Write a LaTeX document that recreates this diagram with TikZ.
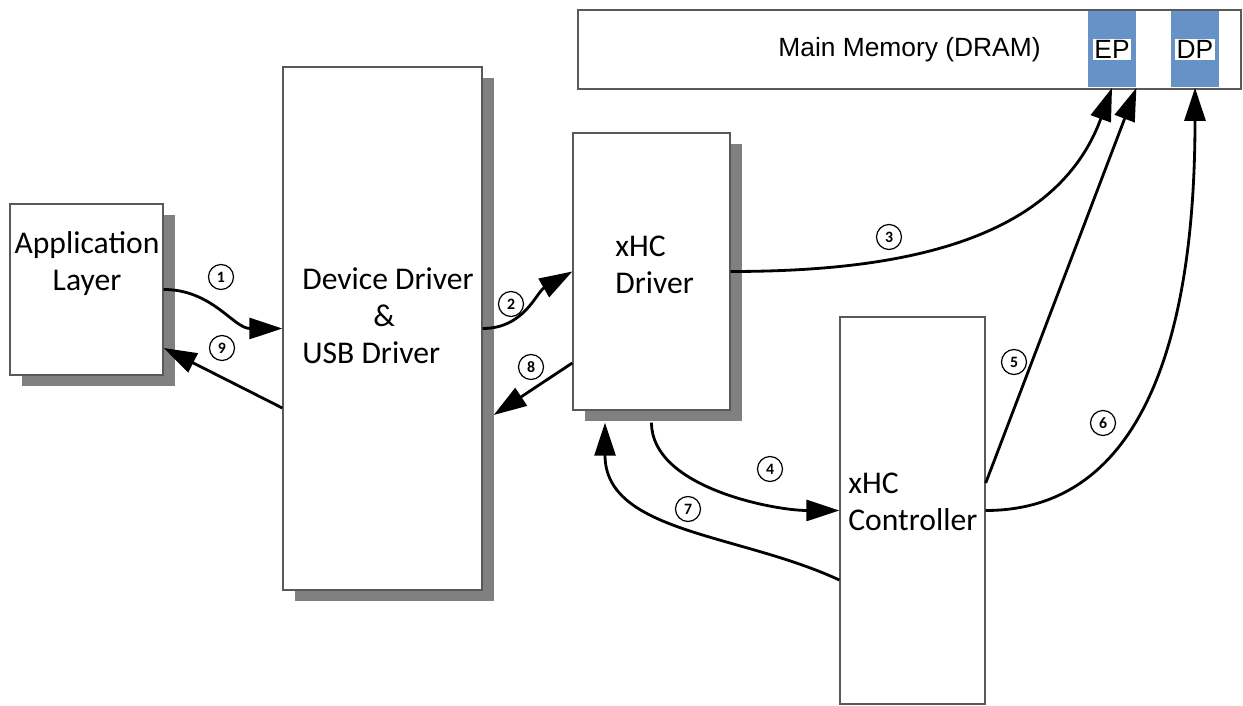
\documentclass[tikz,border=0pt]{standalone}
\usepackage{fontspec}
\setmainfont{Carlito}
\newfontfamily\memfont{Liberation Sans}
\usetikzlibrary{shadows,arrows.meta}
\definecolor{slotblue}{RGB}{102,146,200}
\tikzset{
  layer/.style={draw=black!65,line width=0.8pt,fill=white,drop shadow={shadow xshift=0.24cm,shadow yshift=-0.22cm,fill=black!50,opacity=1}},
  plainbox/.style={draw=black!65,line width=0.8pt,fill=white},
  boxtext/.style={font=\fontsize{18}{21}\selectfont,inner sep=0pt},
  flow/.style={line width=1.6pt,-{Triangle[length=6.6mm,width=4.2mm]}},
  num/.style={draw,circle,line width=0.7pt,minimum size=5mm,inner sep=0pt,font=\small\bfseries},
  slot/.style={fill=slotblue,minimum width=0.96cm,minimum height=1.52cm,inner sep=0pt}
}
\begin{document}
\begin{tikzpicture}
\useasboundingbox (0,0) rectangle (24.86,14.12);
% boxes
\node[layer,minimum width=3.06cm,minimum height=3.42cm] (app) at (1.73,8.33) {};
\node[layer,minimum width=3.98cm,minimum height=10.46cm] (dev) at (7.65,7.55) {};
\node[layer,minimum width=3.14cm,minimum height=5.54cm] (xhcd) at (13.03,8.69) {};
\node[plainbox,minimum width=2.9cm,minimum height=7.74cm] (xhcc) at (18.25,3.91) {};
\node[plainbox,minimum width=13.26cm,minimum height=1.58cm,font=\memfont\fontsize{15}{18}\selectfont] (mem) at (18.19,13.13) {Main Memory (DRAM)};
\node[slot] (ep) at (22.24,13.13) {}; \node[slot] (dp) at (23.9,13.13) {};
\node[fill=white,inner sep=1pt,font=\memfont\fontsize{15}{18}\selectfont] (eplbl) at (ep) {EP};
\node[fill=white,inner sep=1pt,font=\memfont\fontsize{15}{18}\selectfont] (dplbl) at (dp) {DP};
% box texts
\node[boxtext,align=center] (applbl) at (1.74,8.84) {Application\\Layer};
\node[boxtext,align=left,anchor=west] (devlbl) at (6.04,7.8) {Device Driver\\\hspace*{1.42cm}\&\\USB Driver};
\node[boxtext,align=left,anchor=west] (xhcdlbl) at (12.3,8.83) {xHC\\Driver};
\node[boxtext,align=left,anchor=west] (xhcclbl) at (16.96,4.08) {xHC\\Controller};
% steps
\draw[flow] (app.east) to[out=0,in=180] (dev.west);
\draw[flow] (dev.east) to[out=0,in=210] (xhcd.west);
\draw[flow] (xhcd.east) to[out=0,in=250] (ep.south);
\draw[flow] ([yshift=-0.24cm]xhcd.south) to[out=270,in=180,looseness=0.8] (xhcc.west);
\draw[flow] ([yshift=0.55cm]xhcc.east) -- (ep.south east);
\draw[flow] (xhcc.east) to[out=0,in=270] (dp.south);
\draw[flow] ([yshift=-1.39cm]xhcc.west) to[out=155,in=270] ([xshift=-0.93cm,yshift=-0.24cm]xhcd.south);
\draw[flow] ([yshift=-1.83cm]xhcd.west) -- ([xshift=0.22cm,yshift=-1.73cm]dev.east);
\draw[flow] ([yshift=-1.59cm]dev.west) -- ([yshift=-1.17cm]app.east);
% step numbers
\node[num] (n1) at (4.42,8.58) {1}; \node[num] (n9) at (4.44,7.16) {9};
\node[num] (n2) at (10.22,8.04) {2}; \node[num] (n8) at (10.62,6.78) {8};
\node[num] (n3) at (17.78,9.38) {3}; \node[num] (n4) at (15.4,4.74) {4};
\node[num] (n7) at (13.76,3.94) {7}; \node[num] (n5) at (20.28,6.88) {5};
\node[num] (n6) at (22.06,5.66) {6};
\end{tikzpicture}
\end{document}
